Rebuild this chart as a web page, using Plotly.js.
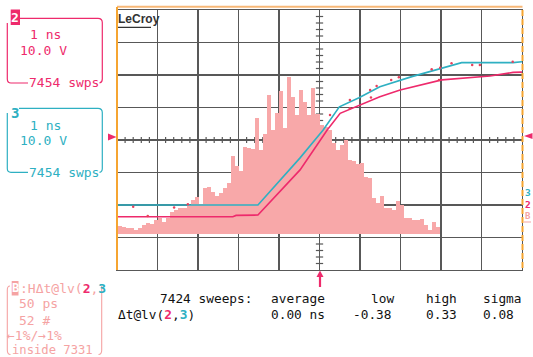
<!DOCTYPE html>
<html><head><meta charset="utf-8">
<script src="https://cdn.plot.ly/plotly-3.0.1.min.js"></script>
<style>html,body{margin:0;padding:0;background:#fff;}#chart{width:533px;height:357px;}</style>
</head><body><div id="chart"></div>
<script>
// ---- data ----
// histogram of Δt (80 bins), counts in arbitrary units
const histCounts = [8,7,6,6,4,6,9,11,10,14,16,12,16,22,24,26,26,29,34,37,30,46,47,42,38,41,46,51,78,68,63,87,86,85,116,84,100,139,104,121,143,106,157,137,119,144,132,119,146,120,109,107,104,91,84,89,94,74,73,70,71,57,56,36,31,38,26,26,24,33,29,16,16,14,14,15,9,4,12,7];
// channel 3 (cyan) waveform, x in divisions (1 ns/div), y in divisions
const ch3X = [-5,-1.52,-0.48,0.09,0.49,0.975,1.49,2.28,3.51,4.78,5];
const ch3Y = [-2.0,-2.0,-0.55,0.31,1.02,1.30,1.64,1.95,2.38,2.38,2.41];
// channel 2 (pink) waveform
const ch2X = [-5,-2.14,-2.06,-1.52,-0.48,0.19,0.51,0.95,1.49,1.99,3.02,4.21,4.78,5];
const ch2Y = [-2.36,-2.36,-2.32,-2.31,-0.92,0.31,0.82,1.05,1.33,1.54,1.85,1.97,2.08,2.09];
// persistence dots
const dotX = [0.26,0.75,1.25,1.41,1.77,1.96,2.77,2.98,3.26,3.77,3.96,4.77,2.95,-4.6,-4.24,-3.59,-3.25,0.75,1.27];
const dotY = [0.77,1.23,1.54,1.66,1.85,1.93,2.18,2.22,2.36,2.31,2.31,2.41,1.85,-2.05,-2.34,-2.08,-1.98,0.98,1.31];
// statistics
const statHeaders = ['7424 sweeps:','average','low','high','sigma'];
const statValues = ['0.00 ns','-0.38','0.33','0.08'];

// ---- layout helpers ----
const L=117,R=522,T=10,B=270;
const PX=x=>(x-L)/(R-L), PY=y=>(B-y)/(B-T);
const PINK='#ee2a6c', CYAN='#2eb0c2', FADE='#f5a3a3', ORANGE='#f6a531', GRID='#585858';
const MONO='DejaVu Sans Mono';

const histIdx = histCounts.map((_,i)=>i+0.5);
const traces = [
  {x:[0],y:[0],xaxis:'x',yaxis:'y',mode:'markers',marker:{opacity:0},hoverinfo:'skip',showlegend:false},
  {type:'bar',x:histIdx,y:histCounts,xaxis:'x2',yaxis:'y2',width:1,marker:{color:'#f8a8a9',line:{width:0}},showlegend:false},
  {x:ch3X,y:ch3Y,xaxis:'x3',yaxis:'y3',mode:'lines',line:{color:CYAN,width:1.6},showlegend:false},
  {x:ch2X,y:ch2Y,xaxis:'x3',yaxis:'y3',mode:'lines',line:{color:PINK,width:1.6},showlegend:false},
  {x:dotX,y:dotY,xaxis:'x3',yaxis:'y3',mode:'markers',marker:{color:'#e8405c',size:2.5},showlegend:false}
];

const ann=[];
function txt(t,x,y,color,size,opt){
  ann.push(Object.assign({text:t,x:PX(x),y:PY(y),xref:'paper',yref:'paper',showarrow:false,
    xanchor:'left',yanchor:'middle',font:{family:MONO,size:size||13,color:color||'#000'},borderpad:0},opt||{}));
}
// channel 2 box
txt('<b>2</b>',15.4,17.5,'#fff',13,{xanchor:'center'});
txt('1 ns',29,34,PINK); txt('10.0 V',19,50,PINK); txt('7454 swps',28,82.5,PINK);
// channel 3 box
txt('<b>3</b>',14.5,113,CYAN,14,{xanchor:'center'});
txt('1 ns',29,125,CYAN); txt('10.0 V',19,140,CYAN); txt('7454 swps',28,172,CYAN);
// histogram box B
txt('<b>B</b>',15,288,'#fff',12,{xanchor:'center'});
txt(':HΔt@lv(<b><span style="color:'+PINK+'">2</span></b>,<b><span style="color:'+CYAN+'">3</span></b>',18.5,288,FADE);
txt('50 ps',18,303.5,FADE); txt('52 #',18,320,FADE); txt('←1%/→1%',6.5,335.5,FADE);
txt('inside 7331',11.5,349.5,FADE,12.2);
// stats
const hx=[159,270,370,425,481.5];
statHeaders.forEach((h,i)=>txt(h,hx[i],298,'#111',12.8));
txt('Δt@lv(<b><span style="color:'+PINK+'">2</span></b>,<b><span style="color:'+CYAN+'">3</span></b>)',117,314.5,'#111',12.8);
const vx=[270,352,425,481.5];
statValues.forEach((v,i)=>txt(v,vx[i],314.5,'#111',12.8));
// right-side channel markers
txt('<b>3</b>',527.5,192,CYAN,9.5,{xanchor:'center'});
txt('<b>2</b>',527.5,204,PINK,9.5,{xanchor:'center'});
txt('<b>B</b>',527.5,216,FADE,9,{xanchor:'center'});
// logo
txt('<b>LeCroy</b>',116.5,19.5,'#333',12,{font:{family:'Liberation Sans',size:12,color:'#333'}});

const shapes=[];
function pline(x0,y0,x1,y1,color,w,dash){shapes.push({type:'line',xref:'paper',yref:'paper',x0:PX(x0),y0:PY(y0),x1:PX(x1),y1:PY(y1),line:{color:color,width:w,dash:dash||'solid'}});}
function ppath(pts,color,w,fill){
  let s='';
  pts.forEach(p=>{ s+=p[0]; for(let i=1;i<p.length;i+=2){ s+=' '+PX(p[i])+','+PY(p[i+1]); } s+=' '; });
  if(fill) s+='Z';
  shapes.push({type:'path',xref:'paper',yref:'paper',path:s,line:{color:color,width:w},fillcolor:fill||'rgba(0,0,0,0)'});
}
// center-line minor ticks (every 0.2 div)
for(let k=-25;k<=25;k++){ if(k%5===0) continue; const v=k/5;
  shapes.push({type:'line',xref:'x',yref:'y',layer:'below',x0:v,x1:v,y0:-0.09,y1:0.09,line:{color:GRID,width:1.2}});}
for(let k=-20;k<=20;k++){ if(k%5===0) continue; const v=k/5;
  shapes.push({type:'line',xref:'x',yref:'y',layer:'below',x0:-0.09,x1:0.09,y0:v,y1:v,line:{color:GRID,width:1.2}});}
// borders
pline(117,6.8,522.5,6.8,'#f8b877',2);
pline(117,7,117,270,ORANGE,2);
pline(522.5,10,522.5,270,ORANGE,2,'6px,3px');
// logo underline
pline(118,27.3,151,27.3,'#333',1.3);
// ch2 box
ppath([['M',20,18.3],['L',98,18.3],['Q',102.3,18.3,102.3,22.5],['L',102.3,79],['Q',102.3,82.5,99.5,83]],PINK,1.2);
ppath([['M',7.3,23],['L',7.3,79],['Q',7.3,83,11,83],['L',28,83]],PINK,1.2);
ppath([['M',10.7,9.5],['L',20,9.5],['L',20,25],['L',10.7,25]],PINK,0,PINK);
// ch3 box
ppath([['M',19,108.3],['L',98,108.3],['Q',102.3,108.3,102.3,112.5],['L',102.3,168.5],['Q',102.3,172,99.5,172.3]],CYAN,1.2);
ppath([['M',7.3,113],['L',7.3,168.5],['Q',7.3,172.3,11,172.3],['L',28,172.3]],CYAN,1.2);
// B box
ppath([['M',11.7,281],['L',18.5,281],['L',18.5,295.5],['L',11.7,295.5]],FADE,0,FADE);
ppath([['M',10,286],['Q',7.3,286,7.3,290],['L',7.3,350],['Q',7.3,354.5,10.5,354.5]],FADE,1.1);
ppath([['M',101.7,286],['L',101.7,350],['Q',101.7,354.5,98.5,354.5]],FADE,1.1);
// markers
ppath([['M',108,133.5],['L',116.5,137],['L',108,140.5]],PINK,0,PINK);
ppath([['M',532.5,133],['L',524,136],['L',532.5,139]],PINK,0,PINK);
ppath([['M',320,270.5],['L',323.5,277],['L',316.5,277]],PINK,0,PINK);
pline(320,276,320,287,PINK,2.2);
pline(524,222,531,222,FADE,1);

const axBase={showticklabels:false,ticks:'',zeroline:false,fixedrange:true};
const layout={
  width:533,height:357,margin:{l:117,r:11,t:10,b:87},
  paper_bgcolor:'#fff',plot_bgcolor:'#fff',showlegend:false,bargap:0,
  xaxis:Object.assign({},axBase,{range:[-5,5],dtick:1,tick0:0,showgrid:true,gridcolor:GRID,gridwidth:1.4,showline:true,mirror:true,linecolor:GRID,linewidth:1.4}),
  yaxis:Object.assign({},axBase,{range:[-4,4],dtick:1,tick0:0,showgrid:true,gridcolor:GRID,gridwidth:1.4,showline:true,mirror:true,linecolor:GRID,linewidth:1.4}),
  xaxis2:Object.assign({},axBase,{overlaying:'x',range:[-0.25,100.25],visible:false,showgrid:false}),
  yaxis2:Object.assign({},axBase,{overlaying:'y',range:[-36,224],visible:false,showgrid:false}),
  xaxis3:Object.assign({},axBase,{overlaying:'x',range:[-5,5],visible:false,showgrid:false}),
  yaxis3:Object.assign({},axBase,{overlaying:'y',range:[-4,4],visible:false,showgrid:false}),
  annotations:ann,shapes:shapes
};
Plotly.newPlot('chart',traces,layout,{staticPlot:true,displayModeBar:false});
</script></body></html>
